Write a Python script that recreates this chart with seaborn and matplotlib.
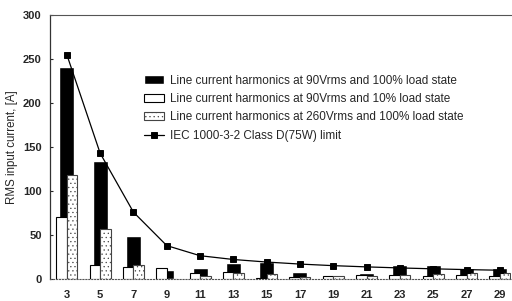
import matplotlib
matplotlib.use("Agg")
import matplotlib.pyplot as plt
import pandas as pd
import seaborn as sns

sns.set_style("ticks")
plt.rcParams['font.family'] = ['Liberation Sans', 'DejaVu Sans']
plt.rcParams['hatch.linewidth'] = 0.4

# harmonic orders on the x axis
harmonics = ['3', '5', '7', '9', '11', '13', '15', '17', '19', '21', '23', '25', '27', '29']

# line current harmonics
h90_full = [241, 134, 49, 10, 13, 18, 19, 7.5, 3, 7, 16, 16, 13, 12]
h90_light = [71, 16, 14, 13, 6.5, 7.5, 1, 2.5, 4, 4.5, 4.5, 4, 4.5, 3.5]
h260_full = [118, 57, 16, 0.5, 4, 6.5, 5.5, 2, 4, 3.5, 5, 6, 7, 7]

# IEC 1000-3-2 class D (75 W) limit
iec_limit = [255, 143, 76, 38, 26.5, 22.2, 19.3, 17, 15.2, 13.8, 12.6, 11.6, 10.7, 10]

lbl_full = 'Line current harmonics at 90Vrms and 100% load state'
lbl_light = 'Line current harmonics at 90Vrms and 10% load state'
lbl_260 = 'Line current harmonics at 260Vrms and 100% load state'
lbl_iec = 'IEC 1000-3-2 Class D(75W) limit'

front = pd.DataFrame({
    'harmonic': harmonics * 2,
    'current': h90_light + h260_full,
    'series': [lbl_light] * len(harmonics) + [lbl_260] * len(harmonics),
})

fig, ax = plt.subplots(figsize=(5.12, 3.01), dpi=100)
fig.subplots_adjust(left=0.098, right=0.999, bottom=0.073, top=0.950)

# wide black bars behind
sns.barplot(x=harmonics, y=h90_full, color='black', width=0.45,
            errorbar=None, ax=ax, zorder=1)
# the two narrower light bars in front
sns.barplot(data=front, x='harmonic', y='current', hue='series',
            palette=['white', 'white'], width=0.63, dodge=True,
            errorbar=None, ax=ax, edgecolor='black', linewidth=0.8,
            legend=False, zorder=2)
for bar in ax.containers[2]:
    bar.set_hatch('....')
    bar.set_edgecolor('#444444')

sns.pointplot(x=harmonics, y=iec_limit, color='black', markers='s',
              markersize=4, linewidth=0.9, errorbar=None, ax=ax, zorder=3)

ax.set_xlim(-0.5, 13.35)
ax.set_ylim(0, 300)
ax.set_yticks([0, 50, 100, 150, 200, 250, 300])
ax.set_ylabel('RMS input current, [A]', fontsize=8.3, labelpad=4)
ax.set_xlabel('')
ax.tick_params(axis='y', direction='in', length=2, labelsize=8, pad=6)
ax.tick_params(axis='x', length=0, labelsize=8, pad=8)
for t in ax.get_xticklabels() + ax.get_yticklabels():
    t.set_fontweight('bold')

ax.spines['right'].set_visible(False)
ax.spines['top'].set_color('#555555')
ax.spines['top'].set_linewidth(0.8)
ax.spines['bottom'].set_linestyle(':')
ax.spines['bottom'].set_color('#555555')
ax.spines['left'].set_color('#333333')
ax.spines['left'].set_linewidth(0.9)

handles = [ax.containers[0], ax.containers[1], ax.containers[2], ax.lines[-1]]
ax.legend(handles, [lbl_full, lbl_light, lbl_260, lbl_iec],
          loc='upper left', bbox_to_anchor=(0.18, 0.815), frameon=False,
          fontsize=8.5, handlelength=1.7, handletextpad=0.5, labelspacing=0.55)

fig.savefig('out.png', dpi=100)
